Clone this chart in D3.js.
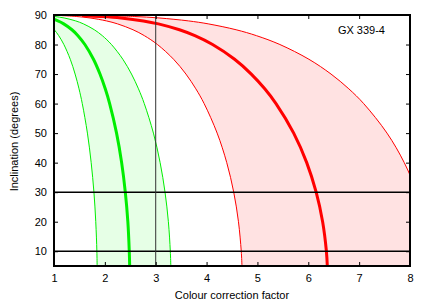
<!DOCTYPE html>
<meta charset="utf-8">
<style>
body { margin: 0; background: #fff; font-family: "Liberation Sans", Arial, sans-serif; }
.axis text { font-size: 11px; fill: #000; }
.axis path, .axis line { stroke: #000; }
</style>
<body>
<div id="chart"></div>
<script src="https://d3js.org/d3.v7.min.js"></script>
<script>
// inclination (degrees) at which each curve was read
var incl = [5, 10, 20, 30, 40, 50, 60, 65, 70, 75, 80, 83, 85, 87, 88, 89, 89.5, 89.8];

// colour correction factor
var greenLow  = [1.848, 1.843, 1.821, 1.785, 1.731, 1.657, 1.556, 1.492, 1.415, 1.320, 1.194, 1.093, 1.005, 0.885, 0.800, 0.672, 0.565, 0.450];
var greenMid  = [2.488, 2.480, 2.452, 2.402, 2.330, 2.230, 2.094, 2.008, 1.904, 1.776, 1.607, 1.471, 1.353, 1.191, 1.076, 0.905, 0.761, 0.605];
var greenHigh = [3.297, 3.287, 3.249, 3.183, 3.087, 2.955, 2.775, 2.661, 2.524, 2.354, 2.130, 1.950, 1.793, 1.578, 1.426, 1.199, 1.009, 0.802];
var redLow    = [4.696, 4.682, 4.627, 4.534, 4.397, 4.208, 3.952, 3.789, 3.594, 3.352, 3.034, 2.777, 2.554, 2.248, 2.031, 1.708, 1.437, 1.143];
var redMid    = [6.374, 6.356, 6.282, 6.155, 5.969, 5.713, 5.365, 5.144, 4.879, 4.551, 4.118, 3.770, 3.467, 3.052, 2.758, 2.319, 1.950, 1.551];
var redHigh   = [8.422, 8.398, 8.300, 8.132, 7.887, 7.548, 7.089, 6.797, 6.447, 6.013, 5.442, 4.981, 4.581, 4.032, 3.644, 3.064, 2.577, 2.049];

var xTicks = [1, 2, 3, 4, 5, 6, 7, 8];
var yTicks = [10, 20, 30, 40, 50, 60, 70, 80, 90];
var hLines = [30, 10];
var vLines = [3];

var margin = {top: 15, right: 21, bottom: 36, left: 54},
    width = 431 - margin.left - margin.right,
    height = 302 - margin.top - margin.bottom;

var x = d3.scaleLinear().domain([1, 8]).range([0, width]);
var y = d3.scaleLinear().domain([5, 90]).range([height, 0]);

var svg = d3.select("#chart").append("svg")
    .attr("width", 431)
    .attr("height", 302)
  .append("g")
    .attr("transform", "translate(" + margin.left + "," + margin.top + ")");

svg.append("clipPath").attr("id", "clip")
  .append("rect").attr("width", width).attr("height", height);

var plot = svg.append("g").attr("clip-path", "url(#clip)");

function pts(xs) {
  return xs.map(function(v, i) { return [v, incl[i]]; });
}

var line = d3.line()
    .x(function(d) { return x(d[0]); })
    .y(function(d) { return y(d[1]); })
    .curve(d3.curveCatmullRom);

function band(low, high) {
  return line(pts(high)) + "L" + line(pts(low).reverse()).slice(1) + "Z";
}

plot.append("path").attr("d", band(greenLow, greenHigh))
    .attr("fill", "#e6ffe6").attr("stroke", "none");
plot.append("path").attr("d", band(redLow, redHigh))
    .attr("fill", "#ffe2e2").attr("stroke", "none");

[greenLow, greenHigh].forEach(function(s) {
  plot.append("path").attr("d", line(pts(s)))
      .attr("fill", "none").attr("stroke", "#00ee00").attr("stroke-width", 1);
});
plot.append("path").attr("d", line(pts(greenMid)))
    .attr("fill", "none").attr("stroke", "#00ee00").attr("stroke-width", 3);

[redLow, redHigh].forEach(function(s) {
  plot.append("path").attr("d", line(pts(s)))
      .attr("fill", "none").attr("stroke", "#ff0000").attr("stroke-width", 1);
});
plot.append("path").attr("d", line(pts(redMid)))
    .attr("fill", "none").attr("stroke", "#ff0000").attr("stroke-width", 3);

// reference lines
plot.selectAll(".hl").data(hLines).enter().append("line")
    .attr("x1", 0).attr("x2", width)
    .attr("y1", function(d) { return y(d); }).attr("y2", function(d) { return y(d); })
    .attr("stroke", "#000").attr("stroke-width", 1.5);
plot.selectAll(".vl").data(vLines).enter().append("line")
    .attr("y1", 0).attr("y2", height)
    .attr("x1", function(d) { return x(d); }).attr("x2", function(d) { return x(d); })
    .attr("stroke", "#333").attr("stroke-width", 1);

// axes with inward ticks
var xAxis = svg.append("g").attr("class", "axis")
    .attr("transform", "translate(0," + height + ")")
    .call(d3.axisBottom(x).tickValues(xTicks).tickSize(-4).tickPadding(8).tickFormat(d3.format("d")));
var xTop = svg.append("g").attr("class", "axis")
    .call(d3.axisTop(x).tickValues(xTicks).tickSize(-4).tickFormat(""));
var yAxis = svg.append("g").attr("class", "axis")
    .call(d3.axisLeft(y).tickValues(yTicks).tickSize(-4).tickPadding(7).tickFormat(d3.format("d")));
var yRight = svg.append("g").attr("class", "axis")
    .attr("transform", "translate(" + width + ",0)")
    .call(d3.axisRight(y).tickValues(yTicks).tickSize(-4).tickFormat(""));

[xAxis, xTop, yAxis, yRight].forEach(function(a) { a.select(".domain").remove(); });

svg.append("rect")
    .attr("width", width).attr("height", height)
    .attr("fill", "none").attr("stroke", "#000").attr("stroke-width", 2);

svg.append("text")
    .attr("x", width / 2).attr("y", height + 33)
    .attr("text-anchor", "middle").style("font-size", "11px")
    .text("Colour correction factor");

svg.append("text")
    .attr("transform", "translate(-36," + (height / 2 + 1) + ") rotate(-90)")
    .attr("text-anchor", "middle").style("font-size", "11px")
    .text("Inclination (degrees)");

svg.append("text")
    .attr("x", width - 25).attr("y", 19)
    .attr("text-anchor", "end").style("font-size", "11px")
    .text("GX 339-4");
</script>
</body>
